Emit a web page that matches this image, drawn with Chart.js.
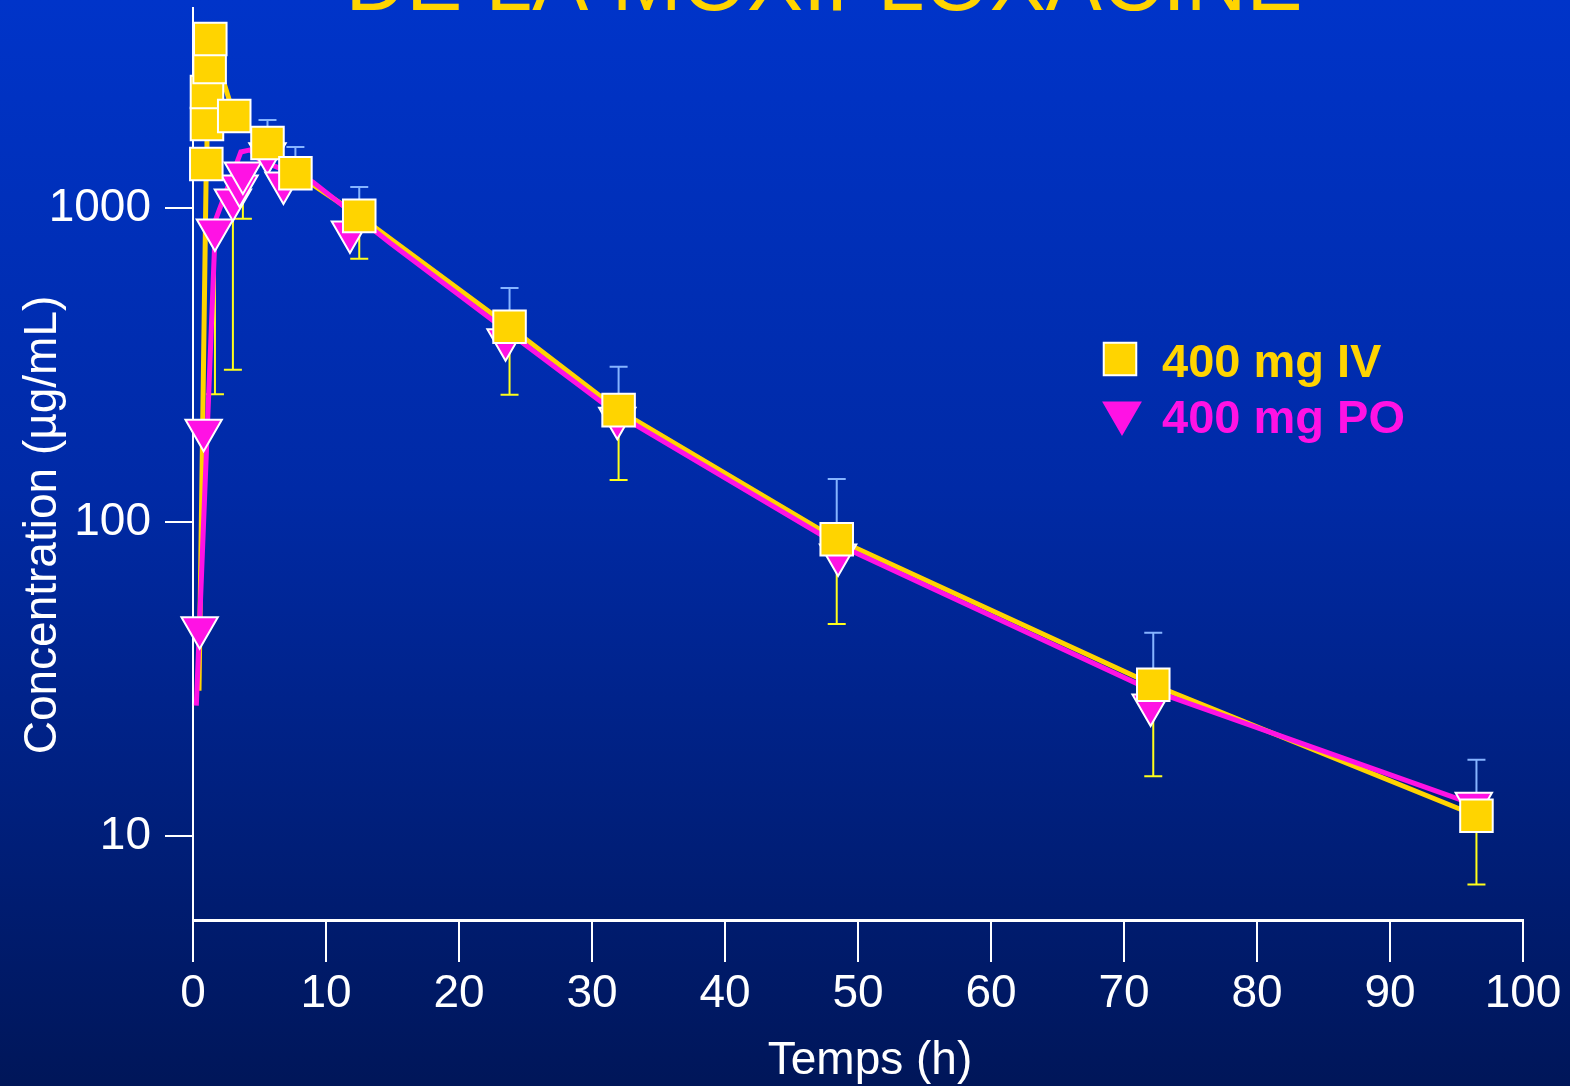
<!DOCTYPE html>
<html>
<head>
<meta charset="utf-8">
<script src="https://cdn.jsdelivr.net/npm/chart.js@4.4.1/dist/chart.umd.min.js"></script>
<style>
  html, body { margin: 0; padding: 0; }
  body {
    width: 1570px; height: 1086px; overflow: hidden;
    background: linear-gradient(to bottom, #0034c9 0%, #002aa6 45%, #001659 100%);
  }
</style>
</head>
<body>
<canvas id="pkChart" width="1570" height="1086"></canvas>
<script>
// concentrations (µg/mL) vs time (h)
const ivTime  = [1.0, 1.05, 1.05, 1.25, 1.3, 3.1, 5.6, 7.7, 12.5, 23.8, 32, 48.4, 72.2, 96.5];
const ivConc  = [1380, 1850, 2340, 2810, 3450, 1960, 1610, 1290, 943, 418, 227, 88, 30.3, 11.6];
const ivSdUp  = [null, null, null, null, null, null, 1905, 1564, 1166, 556, 312, 137, 44.4, 17.5];
const ivSdLow = [null, null, null, null, null, null, null, null, 689, 254, 136, 47.3, 15.5, 7.0];
// the IV curve starts below the first marker
const ivCurveStartTime = [0.45];
const ivCurveStartConc = [29];

const poTime  = [0.5, 0.8, 1.65, 3.0, 3.5, 3.75, 5.6, 6.8, 11.8, 23.5, 31.9, 48.5, 72, 96.3];
const poConc  = [46, 196, 851, 1060, 1175, 1291, 1486, 1200, 838, 380, 214, 78.5, 26.1, 12.7];
const poSdLow = [null, null, 255, 305, null, 923, null, null, null, null, null, null, null, null];
// the PO curve is a fit, it does not go through the markers
const poCurveTime = [0.25, 1.7, 3.6, 4.3, 5.0, 9.0, 14.8, 24, 32, 48.4, 72, 96.3];
const poCurveConc = [26, 916, 1507, 1530, 1422, 1210, 774, 394, 219, 85.1, 29.2, 12.6];

const xTicks = [0, 10, 20, 30, 40, 50, 60, 70, 80, 90, 100];
const yTicks = [10, 100, 1000];

const headerText = 'DE LA MOXIFLOXACINE';
const xTitle = 'Temps (h)';
const yTitle = 'Concentration (µg/mL)';
const ivLabel = '400 mg IV';
const poLabel = '400 mg PO';

const FONT = '"Liberation Sans", Arial, Helvetica, sans-serif';
const GOLD = '#ffd400';
const MAGENTA = '#ff12e4';
const SD_UP = '#86b4ff';
const SD_LOW = '#ffff1a';

const points = (t, c) => t.map((v, i) => ({ x: v, y: c[i] }));

const errorBars = {
  id: 'errorBars',
  beforeDatasetsDraw(chart) {
    const ctx = chart.ctx, sx = chart.scales.x, sy = chart.scales.y;
    const bar = (t, c, end, color) => {
      if (end == null) return;
      const px = sx.getPixelForValue(t);
      const p0 = sy.getPixelForValue(c), p1 = sy.getPixelForValue(end);
      ctx.strokeStyle = color;
      ctx.beginPath();
      ctx.moveTo(px, p0); ctx.lineTo(px, p1);
      ctx.moveTo(px - 9, p1); ctx.lineTo(px + 9, p1);
      ctx.stroke();
    };
    ctx.save();
    ctx.lineWidth = 2;
    ivTime.forEach((t, i) => { bar(t, ivConc[i], ivSdUp[i], SD_UP); bar(t, ivConc[i], ivSdLow[i], SD_LOW); });
    poTime.forEach((t, i) => bar(t, poConc[i], poSdLow[i], SD_LOW));
    ctx.restore();
  }
};

const overlay = {
  id: 'overlay',
  afterDraw(chart) {
    const ctx = chart.ctx;
    ctx.save();
    // slide title, mostly cut off at the top
    ctx.fillStyle = GOLD;
    ctx.font = '84px ' + FONT;
    ctx.textAlign = 'center';
    ctx.textBaseline = 'alphabetic';
    ctx.fillText(headerText, 824, 10);

    // axis titles
    ctx.fillStyle = '#fff';
    ctx.font = '46px ' + FONT;
    ctx.fillText(xTitle, 870, 1074);
    ctx.save();
    ctx.translate(56, 525);
    ctx.rotate(-Math.PI / 2);
    ctx.fillText(yTitle, 0, 0);
    ctx.restore();

    // legend
    ctx.lineWidth = 2;
    ctx.strokeStyle = '#fff';
    ctx.fillStyle = GOLD;
    Chart.helpers.drawPoint(ctx, { pointStyle: 'rect', radius: 23, rotation: 0, borderWidth: 2 }, 1120, 359);
    ctx.fillStyle = MAGENTA;
    ctx.strokeStyle = MAGENTA;
    Chart.helpers.drawPoint(ctx, { pointStyle: 'triangle', radius: 21, rotation: 180, borderWidth: 1 }, 1122, 413);
    ctx.font = 'bold 47px ' + FONT;
    ctx.textAlign = 'left';
    ctx.fillStyle = GOLD;
    ctx.fillText(ivLabel, 1162, 377);
    ctx.fillStyle = MAGENTA;
    ctx.fillText(poLabel, 1162, 433);
    ctx.restore();
  }
};

new Chart(document.getElementById('pkChart'), {
  type: 'scatter',
  data: {
    datasets: [
      {
        label: ivLabel,
        data: points(ivTime, ivConc),
        pointStyle: 'rect',
        pointRadius: 23,
        backgroundColor: GOLD,
        borderColor: '#fff',
        borderWidth: 2,
        clip: false,
        order: 1
      },
      {
        label: poLabel,
        data: points(poTime, poConc),
        pointStyle: 'triangle',
        rotation: 180,
        pointRadius: 21,
        backgroundColor: MAGENTA,
        borderColor: '#fff',
        borderWidth: 2,
        clip: false,
        order: 2
      },
      {
        label: poLabel + ' curve',
        data: points(poCurveTime, poCurveConc),
        showLine: true,
        pointRadius: 0,
        borderColor: MAGENTA,
        borderWidth: 5,
        clip: false,
        order: 3
      },
      {
        label: ivLabel + ' curve',
        data: points(ivCurveStartTime, ivCurveStartConc).concat(points(ivTime, ivConc)),
        showLine: true,
        pointRadius: 0,
        borderColor: GOLD,
        borderWidth: 5,
        clip: false,
        order: 4
      }
    ]
  },
  options: {
    responsive: false,
    animation: false,
    devicePixelRatio: 1,
    // big markers would otherwise push the plot area inwards
    layout: { autoPadding: false, padding: { top: 8, right: 47, left: 0, bottom: 0 } },
    plugins: { legend: { display: false }, tooltip: { enabled: false } },
    scales: {
      x: {
        type: 'linear',
        min: 0,
        max: 100,
        afterBuildTicks: s => { s.ticks = xTicks.map(v => ({ value: v })); },
        afterFit: s => { s.height = 166; s.paddingLeft = 0; s.paddingRight = 0; },
        grid: { drawOnChartArea: false, color: '#fff', lineWidth: 2, tickLength: 42 },
        border: { color: '#fff', width: 3 },
        ticks: { color: '#fff', font: { size: 46, family: FONT }, padding: 5, maxRotation: 0, autoSkip: false }
      },
      y: {
        type: 'logarithmic',
        min: 5.4,
        max: 4330,
        afterBuildTicks: s => { s.ticks = yTicks.map(v => ({ value: v })); },
        afterFit: s => { s.width = 193; s.paddingTop = 0; s.paddingBottom = 0; },
        grid: { drawOnChartArea: false, color: '#fff', lineWidth: 2, tickLength: 28 },
        border: { color: '#fff', width: 2 },
        ticks: { color: '#fff', font: { size: 46, family: FONT }, padding: 14, callback: v => String(v) }
      }
    }
  },
  plugins: [errorBars, overlay]
});
</script>
</body>
</html>
